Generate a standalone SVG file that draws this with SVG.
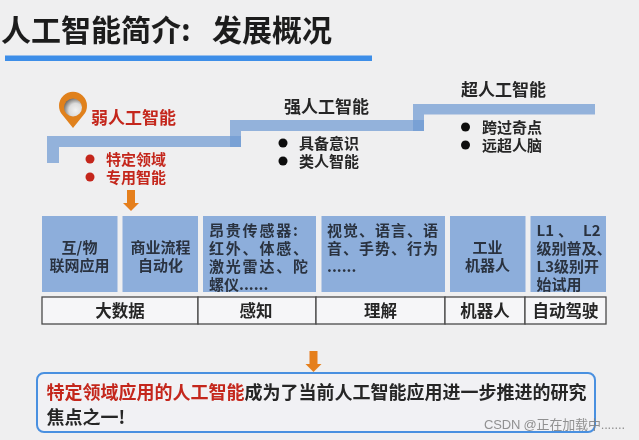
<svg xmlns="http://www.w3.org/2000/svg" width="639" height="440" viewBox="0 0 639 440">
<defs>
<filter id="soft" x="-5%" y="-5%" width="110%" height="110%"><feGaussianBlur stdDeviation="0.5"/></filter>
<radialGradient id="pinHole" cx="0.65" cy="0.65" r="0.75"><stop offset="0" stop-color="#f2f2f2"/><stop offset="0.5" stop-color="#dcdcdc"/><stop offset="1" stop-color="#5e5a56"/></radialGradient>
<path id="downArrow" d="M-4-10.500H4V2.500H8L0 10.500L-8 2.500H-4Z" fill="#e57f1f"/>
</defs>
<style>
text{font-family:"Noto Sans CJK SC","Noto Sans",sans-serif;font-weight:700;fill:#262626}
.title{font-size:30px;fill:#1f1f1f}
.lvl{font-size:17px}
.red{fill:#c4281c}
.item{font-size:15px}
.box{font-size:15px;fill:#2a3340}
.mid{text-anchor:middle}
.cell{font-size:16.500px;text-anchor:middle}
.tile{fill:#8daedb}
.step{fill:#6f9ad3;fill-opacity:.72}
.grid{fill:#f6f6f8;stroke:#4a4a4a;stroke-width:1.300}
.msg{font-size:18px}
</style>
<rect width="639" height="440" fill="#efeff0"/>
<g filter="url(#soft)">
<g id="title">
<text class="title" x="1" y="41">人工智能简介:</text>
<text class="title" x="212" y="41">发展概况</text>
<rect x="5" y="55.500" width="367" height="5.500" fill="#3e8ee8"/>
</g>
<g id="connectors">
<path class="step" d="M47 136H241V147H59V163H47Z"/>
<path class="step" d="M230 120H424V131H241V147H230Z"/>
<path class="step" d="M413 104H595V114.500H424V131H413Z"/>
<use href="#downArrow" x="131" y="200.500"/>
<use href="#downArrow" x="313.500" y="361.500"/>
</g>
<g id="pin">
<path d="M73 128L62.500 115A14 14 0 1 1 83.500 115Z" fill="#e0811f"/>
<circle cx="73" cy="107.500" r="9" fill="url(#pinHole)"/>
</g>
<g id="weak-ai">
<text class="lvl red" x="91" y="124">弱人工智能</text>
<circle cx="90" cy="159" r="4.500" fill="#c4281c"/>
<circle cx="90" cy="177" r="4.500" fill="#c4281c"/>
<text class="item red" x="106" y="164.500">特定领域</text>
<text class="item red" x="106" y="182.500">专用智能</text>
</g>
<g id="strong-ai">
<text class="lvl" x="284" y="113">强人工智能</text>
<circle cx="283" cy="143" r="4.500" fill="#111"/>
<circle cx="283" cy="161" r="4.500" fill="#111"/>
<text class="item" x="299" y="148.500">具备意识</text>
<text class="item" x="299" y="166.500">类人智能</text>
</g>
<g id="super-ai">
<text class="lvl" x="461" y="96">超人工智能</text>
<circle cx="465.500" cy="127" r="4.500" fill="#111"/>
<circle cx="465.500" cy="145" r="4.500" fill="#111"/>
<text class="item" x="482" y="132.500">跨过奇点</text>
<text class="item" x="482" y="150.500">远超人脑</text>
</g>
<g id="tile-iot">
<rect class="tile" x="42" y="216" width="75.500" height="76"/>
<text class="box mid" x="79.500" y="252.500">互/物</text>
<text class="box mid" x="79.500" y="270.500">联网应用</text>
</g>
<g id="tile-rpa">
<rect class="tile" x="122.500" y="216" width="75.500" height="76"/>
<text class="box mid" x="160.500" y="252.500">商业流程</text>
<text class="box mid" x="160.500" y="270.500">自动化</text>
</g>
<g id="tile-sensor">
<rect class="tile" x="203" y="216" width="113" height="76"/>
<text class="box" x="209" y="235.500" letter-spacing="1.800">昂贵传感器:</text>
<text class="box" x="209" y="253.500" letter-spacing="1.800">红外、体感、</text>
<text class="box" x="209" y="271.500" letter-spacing="1.800">激光雷达、陀</text>
<text class="box" x="209" y="290">螺仪......</text>
</g>
<g id="tile-lang">
<rect class="tile" x="321.500" y="216" width="123.500" height="76"/>
<text class="box" x="327" y="235.500" letter-spacing="1">视觉、语言、语</text>
<text class="box" x="327" y="253.500" letter-spacing="1">音、手势、行为</text>
<text class="box" x="327" y="271.500">......</text>
</g>
<g id="tile-robot">
<rect class="tile" x="450" y="216" width="75.500" height="76"/>
<text class="box mid" x="487.500" y="252.500">工业</text>
<text class="box mid" x="487.500" y="270.500">机器人</text>
</g>
<g id="tile-drive">
<rect class="tile" x="530.500" y="216" width="75.500" height="76"/>
<text class="box" x="536.500" y="235.500">L1</text>
<text class="box" x="558" y="235.500">、</text>
<text class="box" x="583" y="235.500">L2</text>
<text class="box" x="536.500" y="253.500">级别普及、</text>
<text class="box" x="536.500" y="271.500">L3级别开</text>
<text class="box" x="536.500" y="290">始试用</text>
</g>
<g id="cell-bigdata"><rect class="grid" x="42" y="297" width="156" height="27"/><text class="cell" x="120" y="316.500">大数据</text></g>
<g id="cell-perception"><rect class="grid" x="198" y="297" width="118" height="27"/><text class="cell" x="256" y="316.500">感知</text></g>
<g id="cell-understanding"><rect class="grid" x="316" y="297" width="129" height="27"/><text class="cell" x="380.500" y="316.500">理解</text></g>
<g id="cell-robot"><rect class="grid" x="445" y="297" width="80" height="27"/><text class="cell" x="485" y="316.500">机器人</text></g>
<g id="cell-drive"><rect class="grid" x="525" y="297" width="81" height="27"/><text class="cell" x="565.500" y="316.500">自动驾驶</text></g>
<g id="conclusion">
<rect x="37" y="373" width="558" height="59" rx="7" fill="#f1f1f4" stroke="#4a90e0" stroke-width="2"/>
<text class="msg" x="46.500" y="398.500"><tspan class="red">特定领域应用的人工智能</tspan>成为了当前人工智能应用进一步推进的研究</text>
<text class="msg" x="46.500" y="423.500">焦点之一!</text>
</g>
</g>
<text x="484" y="429" font-size="13" style="font-family:'Liberation Sans','Noto Sans CJK SC',sans-serif;font-weight:400;fill:#7f7f7f;fill-opacity:.85" textLength="141">CSDN @正在加载中.......</text>
</svg>
